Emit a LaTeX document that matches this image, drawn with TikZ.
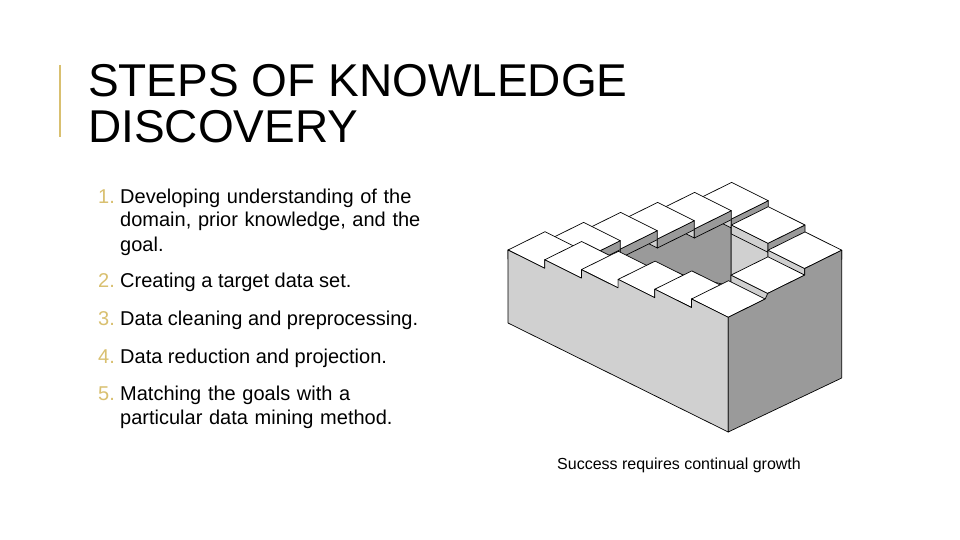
\documentclass[tikz,border=0pt]{standalone}
\usepackage{fontspec}
\setmainfont{Liberation Sans}
\definecolor{gold}{HTML}{D9C070}
\definecolor{lightface}{HTML}{D0D0D0}
\definecolor{darkface}{HTML}{9A9A9A}
\begin{document}
\begin{tikzpicture}[x=1pt,y=-1pt,
  txt/.style={anchor=base west,inner sep=0pt,font=\fontsize{20}{24}\selectfont},
  num/.style={anchor=base west,inner sep=0pt,font=\fontsize{20}{24}\selectfont,text=gold},
  edge/.style={draw=black,line width=0.7pt,line join=round}]
\useasboundingbox (0,0) rectangle (960,540);
\fill[white] (0,0) rectangle (960,540);
% title
\draw[gold,line width=2.5pt] (60,65) -- (60,137);
\node[anchor=base west,inner sep=0pt,font=\fontsize{46}{46}\selectfont] (t1) at (88,97) {STEPS OF KNOWLEDGE};
\node[anchor=base west,inner sep=0pt,font=\fontsize{46}{46}\selectfont] (t2) at (88,143) {DISCOVERY};
% list
\node[num] (n1) at (98,203) {1.};
\node[txt,align=left,text width=340pt] (i1) at (120,203) {Developing understanding of the\\domain, prior knowledge, and the\\goal.};
\node[num] (n2) at (98,287) {2.};
\node[txt] (i2) at (120,287) {Creating a target data set.};
\node[num] (n3) at (98,325) {3.};
\node[txt] (i3) at (120,325) {Data cleaning and preprocessing.};
\node[num] (n4) at (98,363) {4.};
\node[txt] (i4) at (120,363) {Data reduction and projection.};
\node[num] (n5) at (98,400) {5.};
\node[txt,align=left,text width=340pt] (i5) at (120,400) {Matching the goals with a\\particular data mining method.};
\node[anchor=base west,inner sep=0pt,font=\fontsize{16}{18}\selectfont] (cap) at (557,469) {Success requires continual growth};
% wells
\fill[lightface,edge] (731,205) -- (768,225) -- (768,300) -- (731,286) -- cycle;
\fill[darkface,edge] (596,252) -- (731,195) -- (731,286) -- (660,270) -- cycle;
% treads
\newcommand{\tread}[2]{%
  \fill[lightface,edge] (#1,#2) -- ++(36.7,18.3) -- ++(0,9) -- ++(-36.7,-18.3) -- cycle;
  \fill[darkface,edge] (#1+36.7,#2+18.3) -- ++(37,-18.3) -- ++(0,9) -- ++(-37,18.3) -- cycle;
  \fill[white,edge] (#1,#2) -- ++(36.7,18.3) -- ++(37,-18.3) -- ++(-36.7,-18.3) -- cycle;}
\tread{694.6}{200.7}
\tread{657.6}{210.7}
\tread{620.6}{220.7}
\tread{731.3}{225}
\tread{583.6}{230.7}
\tread{546.6}{240.7}
\tread{508}{250}
\tread{768}{250.2}
\tread{544.7}{259.8}
\tread{581.4}{269.6}
\tread{731}{275.1}
\tread{618.1}{279.4}
\tread{654.8}{289.2}
\tread{691.5}{299}
% side faces
\fill[lightface,edge] (508,250) -- (544.7,268.3) -- (544.7,259.8) -- (581.4,278.1) -- (581.4,269.6)
  -- (618.1,287.9) -- (618.1,279.4) -- (654.8,297.7) -- (654.8,289.2) -- (691.5,307.5)
  -- (691.5,299) -- (728.2,317.3) -- (728.2,432) -- (508,323) -- cycle;
\fill[darkface,edge] (728.2,317.3) -- (765.2,299) -- (767.7,293.4) -- (804.7,275.1) -- (804.7,268.5)
  -- (841.7,250.2) -- (841.7,378) -- (728.2,432) -- cycle;
\end{tikzpicture}
\end{document}
